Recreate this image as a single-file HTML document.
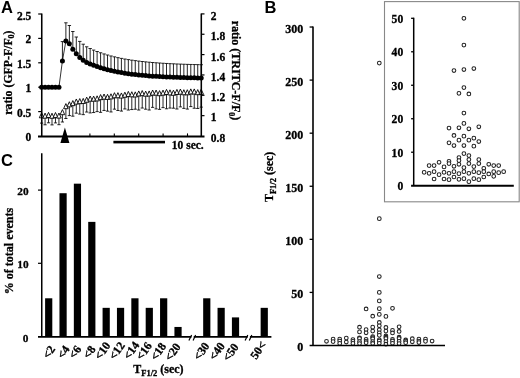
<!DOCTYPE html>
<html><head><meta charset="utf-8"><title>Figure</title>
<style>html,body{margin:0;padding:0;background:#fff}svg{display:block;will-change:transform;filter:grayscale(1)}</style></head>
<body><svg width="520" height="378" viewBox="0 0 520 378">
<rect width="520" height="378" fill="#fff"/>
<circle cx="379.30" cy="292.42" r="1.85" fill="#fff" stroke="#222" stroke-width="1.05"/>
<circle cx="379.30" cy="300.91" r="1.85" fill="#fff" stroke="#222" stroke-width="1.05"/>
<circle cx="366.10" cy="308.98" r="1.85" fill="#fff" stroke="#222" stroke-width="1.05"/>
<circle cx="379.30" cy="308.66" r="1.85" fill="#fff" stroke="#222" stroke-width="1.05"/>
<circle cx="392.50" cy="308.34" r="1.85" fill="#fff" stroke="#222" stroke-width="1.05"/>
<circle cx="379.30" cy="314.40" r="1.85" fill="#fff" stroke="#222" stroke-width="1.05"/>
<circle cx="372.70" cy="316.20" r="1.85" fill="#fff" stroke="#222" stroke-width="1.05"/>
<circle cx="385.90" cy="316.41" r="1.85" fill="#fff" stroke="#222" stroke-width="1.05"/>
<circle cx="379.30" cy="322.46" r="1.85" fill="#fff" stroke="#222" stroke-width="1.05"/>
<circle cx="379.30" cy="325.75" r="1.85" fill="#fff" stroke="#222" stroke-width="1.05"/>
<circle cx="359.50" cy="327.24" r="1.85" fill="#fff" stroke="#222" stroke-width="1.05"/>
<circle cx="372.70" cy="327.13" r="1.85" fill="#fff" stroke="#222" stroke-width="1.05"/>
<circle cx="385.90" cy="327.45" r="1.85" fill="#fff" stroke="#222" stroke-width="1.05"/>
<circle cx="399.10" cy="326.82" r="1.85" fill="#fff" stroke="#222" stroke-width="1.05"/>
<circle cx="366.10" cy="329.58" r="1.85" fill="#fff" stroke="#222" stroke-width="1.05"/>
<circle cx="379.30" cy="329.79" r="1.85" fill="#fff" stroke="#222" stroke-width="1.05"/>
<circle cx="372.70" cy="331.06" r="1.85" fill="#fff" stroke="#222" stroke-width="1.05"/>
<circle cx="385.90" cy="331.06" r="1.85" fill="#fff" stroke="#222" stroke-width="1.05"/>
<circle cx="392.50" cy="330.43" r="1.85" fill="#fff" stroke="#222" stroke-width="1.05"/>
<circle cx="359.50" cy="331.91" r="1.85" fill="#fff" stroke="#222" stroke-width="1.05"/>
<circle cx="399.10" cy="331.49" r="1.85" fill="#fff" stroke="#222" stroke-width="1.05"/>
<circle cx="366.10" cy="332.76" r="1.85" fill="#fff" stroke="#222" stroke-width="1.05"/>
<circle cx="379.30" cy="332.76" r="1.85" fill="#fff" stroke="#222" stroke-width="1.05"/>
<circle cx="392.50" cy="332.97" r="1.85" fill="#fff" stroke="#222" stroke-width="1.05"/>
<circle cx="379.30" cy="335.31" r="1.85" fill="#fff" stroke="#222" stroke-width="1.05"/>
<circle cx="385.90" cy="335.95" r="1.85" fill="#fff" stroke="#222" stroke-width="1.05"/>
<circle cx="372.70" cy="336.58" r="1.85" fill="#fff" stroke="#222" stroke-width="1.05"/>
<circle cx="372.70" cy="337.54" r="1.85" fill="#fff" stroke="#222" stroke-width="1.05"/>
<circle cx="385.90" cy="337.22" r="1.85" fill="#fff" stroke="#222" stroke-width="1.05"/>
<circle cx="399.10" cy="337.22" r="1.85" fill="#fff" stroke="#222" stroke-width="1.05"/>
<circle cx="359.50" cy="337.75" r="1.85" fill="#fff" stroke="#222" stroke-width="1.05"/>
<circle cx="346.30" cy="338.07" r="1.85" fill="#fff" stroke="#222" stroke-width="1.05"/>
<circle cx="333.10" cy="339.13" r="1.85" fill="#fff" stroke="#222" stroke-width="1.05"/>
<circle cx="339.70" cy="339.13" r="1.85" fill="#fff" stroke="#222" stroke-width="1.05"/>
<circle cx="352.90" cy="339.56" r="1.85" fill="#fff" stroke="#222" stroke-width="1.05"/>
<circle cx="359.50" cy="338.49" r="1.85" fill="#fff" stroke="#222" stroke-width="1.05"/>
<circle cx="366.10" cy="339.34" r="1.85" fill="#fff" stroke="#222" stroke-width="1.05"/>
<circle cx="372.70" cy="338.71" r="1.85" fill="#fff" stroke="#222" stroke-width="1.05"/>
<circle cx="379.30" cy="339.77" r="1.85" fill="#fff" stroke="#222" stroke-width="1.05"/>
<circle cx="385.90" cy="338.49" r="1.85" fill="#fff" stroke="#222" stroke-width="1.05"/>
<circle cx="392.50" cy="339.45" r="1.85" fill="#fff" stroke="#222" stroke-width="1.05"/>
<circle cx="399.10" cy="338.49" r="1.85" fill="#fff" stroke="#222" stroke-width="1.05"/>
<circle cx="405.70" cy="339.98" r="1.85" fill="#fff" stroke="#222" stroke-width="1.05"/>
<circle cx="412.30" cy="338.71" r="1.85" fill="#fff" stroke="#222" stroke-width="1.05"/>
<circle cx="418.90" cy="339.13" r="1.85" fill="#fff" stroke="#222" stroke-width="1.05"/>
<circle cx="425.50" cy="339.13" r="1.85" fill="#fff" stroke="#222" stroke-width="1.05"/>
<circle cx="326.50" cy="341.25" r="1.85" fill="#fff" stroke="#222" stroke-width="1.05"/>
<circle cx="333.10" cy="341.57" r="1.85" fill="#fff" stroke="#222" stroke-width="1.05"/>
<circle cx="339.70" cy="341.04" r="1.85" fill="#fff" stroke="#222" stroke-width="1.05"/>
<circle cx="346.30" cy="342.00" r="1.85" fill="#fff" stroke="#222" stroke-width="1.05"/>
<circle cx="352.90" cy="341.25" r="1.85" fill="#fff" stroke="#222" stroke-width="1.05"/>
<circle cx="359.50" cy="341.57" r="1.85" fill="#fff" stroke="#222" stroke-width="1.05"/>
<circle cx="366.10" cy="341.04" r="1.85" fill="#fff" stroke="#222" stroke-width="1.05"/>
<circle cx="372.70" cy="341.68" r="1.85" fill="#fff" stroke="#222" stroke-width="1.05"/>
<circle cx="379.30" cy="341.04" r="1.85" fill="#fff" stroke="#222" stroke-width="1.05"/>
<circle cx="385.90" cy="341.57" r="1.85" fill="#fff" stroke="#222" stroke-width="1.05"/>
<circle cx="392.50" cy="341.04" r="1.85" fill="#fff" stroke="#222" stroke-width="1.05"/>
<circle cx="399.10" cy="341.36" r="1.85" fill="#fff" stroke="#222" stroke-width="1.05"/>
<circle cx="405.70" cy="341.04" r="1.85" fill="#fff" stroke="#222" stroke-width="1.05"/>
<circle cx="412.30" cy="341.78" r="1.85" fill="#fff" stroke="#222" stroke-width="1.05"/>
<circle cx="418.90" cy="341.04" r="1.85" fill="#fff" stroke="#222" stroke-width="1.05"/>
<circle cx="425.50" cy="341.36" r="1.85" fill="#fff" stroke="#222" stroke-width="1.05"/>
<circle cx="432.10" cy="341.04" r="1.85" fill="#fff" stroke="#222" stroke-width="1.05"/>
<circle cx="339.70" cy="343.38" r="1.85" fill="#fff" stroke="#222" stroke-width="1.05"/>
<circle cx="352.90" cy="343.38" r="1.85" fill="#fff" stroke="#222" stroke-width="1.05"/>
<circle cx="359.50" cy="343.59" r="1.85" fill="#fff" stroke="#222" stroke-width="1.05"/>
<circle cx="366.10" cy="342.74" r="1.85" fill="#fff" stroke="#222" stroke-width="1.05"/>
<circle cx="372.70" cy="343.48" r="1.85" fill="#fff" stroke="#222" stroke-width="1.05"/>
<circle cx="379.30" cy="343.27" r="1.85" fill="#fff" stroke="#222" stroke-width="1.05"/>
<circle cx="385.90" cy="344.23" r="1.85" fill="#fff" stroke="#222" stroke-width="1.05"/>
<circle cx="392.50" cy="343.27" r="1.85" fill="#fff" stroke="#222" stroke-width="1.05"/>
<circle cx="399.10" cy="343.59" r="1.85" fill="#fff" stroke="#222" stroke-width="1.05"/>
<circle cx="405.70" cy="342.74" r="1.85" fill="#fff" stroke="#222" stroke-width="1.05"/>
<circle cx="418.90" cy="342.53" r="1.85" fill="#fff" stroke="#222" stroke-width="1.05"/>
<circle cx="379.30" cy="276.50" r="1.85" fill="#fff" stroke="#222" stroke-width="1.05"/>
<circle cx="379.30" cy="218.64" r="1.85" fill="#fff" stroke="#222" stroke-width="1.05"/>
<circle cx="379.30" cy="63.11" r="1.85" fill="#fff" stroke="#222" stroke-width="1.05"/>
<path d="M313.0 26.4V345.5" stroke="#000" stroke-width="1.6" fill="none"/>
<path d="M309.6 345.5H445" stroke="#000" stroke-width="1.7" fill="none"/>
<text x="303.2" y="351.10" text-anchor="end" font-size="12" font-family="Liberation Serif, serif" font-weight="bold" stroke="#000" stroke-width="0.3" fill="#000">0</text>
<path d="M309.6 292.42H313.0" stroke="#000" stroke-width="1.3"/>
<text x="303.2" y="298.02" text-anchor="end" font-size="12" font-family="Liberation Serif, serif" font-weight="bold" stroke="#000" stroke-width="0.3" fill="#000">50</text>
<path d="M309.6 239.34H313.0" stroke="#000" stroke-width="1.3"/>
<text x="303.2" y="244.94" text-anchor="end" font-size="12" font-family="Liberation Serif, serif" font-weight="bold" stroke="#000" stroke-width="0.3" fill="#000">100</text>
<path d="M309.6 186.26H313.0" stroke="#000" stroke-width="1.3"/>
<text x="303.2" y="191.86" text-anchor="end" font-size="12" font-family="Liberation Serif, serif" font-weight="bold" stroke="#000" stroke-width="0.3" fill="#000">150</text>
<path d="M309.6 133.18H313.0" stroke="#000" stroke-width="1.3"/>
<text x="303.2" y="138.78" text-anchor="end" font-size="12" font-family="Liberation Serif, serif" font-weight="bold" stroke="#000" stroke-width="0.3" fill="#000">200</text>
<path d="M309.6 80.10H313.0" stroke="#000" stroke-width="1.3"/>
<text x="303.2" y="85.70" text-anchor="end" font-size="12" font-family="Liberation Serif, serif" font-weight="bold" stroke="#000" stroke-width="0.3" fill="#000">250</text>
<path d="M309.6 27.02H313.0" stroke="#000" stroke-width="1.3"/>
<text x="303.2" y="32.62" text-anchor="end" font-size="12" font-family="Liberation Serif, serif" font-weight="bold" stroke="#000" stroke-width="0.3" fill="#000">300</text>
<text transform="translate(273.2,176.9) rotate(-90)" text-anchor="middle" font-size="12" font-family="Liberation Serif, serif" font-weight="bold" stroke="#000" stroke-width="0.3" fill="#000">T<tspan font-size="8.5" dy="2.6">F1/2</tspan><tspan dy="-2.6"> (sec)</tspan></text>
<text x="264.5" y="12.9" font-size="16.5" font-family="Liberation Sans, sans-serif" font-weight="bold" fill="#000">B</text>
<rect x="384.5" y="1.6" width="134.7" height="200.2" fill="#fff" stroke="#888" stroke-width="1.1"/>
<circle cx="463.90" cy="18.30" r="1.85" fill="#fff" stroke="#222" stroke-width="1.05"/>
<circle cx="463.90" cy="45.08" r="1.85" fill="#fff" stroke="#222" stroke-width="1.05"/>
<circle cx="453.96" cy="70.53" r="1.85" fill="#fff" stroke="#222" stroke-width="1.05"/>
<circle cx="463.90" cy="69.52" r="1.85" fill="#fff" stroke="#222" stroke-width="1.05"/>
<circle cx="473.84" cy="68.52" r="1.85" fill="#fff" stroke="#222" stroke-width="1.05"/>
<circle cx="463.90" cy="87.60" r="1.85" fill="#fff" stroke="#222" stroke-width="1.05"/>
<circle cx="458.93" cy="93.30" r="1.85" fill="#fff" stroke="#222" stroke-width="1.05"/>
<circle cx="468.87" cy="93.96" r="1.85" fill="#fff" stroke="#222" stroke-width="1.05"/>
<circle cx="463.90" cy="113.05" r="1.85" fill="#fff" stroke="#222" stroke-width="1.05"/>
<circle cx="463.90" cy="123.43" r="1.85" fill="#fff" stroke="#222" stroke-width="1.05"/>
<circle cx="448.99" cy="128.11" r="1.85" fill="#fff" stroke="#222" stroke-width="1.05"/>
<circle cx="458.93" cy="127.78" r="1.85" fill="#fff" stroke="#222" stroke-width="1.05"/>
<circle cx="468.87" cy="128.78" r="1.85" fill="#fff" stroke="#222" stroke-width="1.05"/>
<circle cx="478.81" cy="126.78" r="1.85" fill="#fff" stroke="#222" stroke-width="1.05"/>
<circle cx="453.96" cy="135.48" r="1.85" fill="#fff" stroke="#222" stroke-width="1.05"/>
<circle cx="463.90" cy="136.15" r="1.85" fill="#fff" stroke="#222" stroke-width="1.05"/>
<circle cx="458.93" cy="140.17" r="1.85" fill="#fff" stroke="#222" stroke-width="1.05"/>
<circle cx="468.87" cy="140.17" r="1.85" fill="#fff" stroke="#222" stroke-width="1.05"/>
<circle cx="473.84" cy="138.16" r="1.85" fill="#fff" stroke="#222" stroke-width="1.05"/>
<circle cx="448.99" cy="142.85" r="1.85" fill="#fff" stroke="#222" stroke-width="1.05"/>
<circle cx="478.81" cy="141.51" r="1.85" fill="#fff" stroke="#222" stroke-width="1.05"/>
<circle cx="453.96" cy="145.52" r="1.85" fill="#fff" stroke="#222" stroke-width="1.05"/>
<circle cx="463.90" cy="145.52" r="1.85" fill="#fff" stroke="#222" stroke-width="1.05"/>
<circle cx="473.84" cy="146.19" r="1.85" fill="#fff" stroke="#222" stroke-width="1.05"/>
<circle cx="463.90" cy="153.56" r="1.85" fill="#fff" stroke="#222" stroke-width="1.05"/>
<circle cx="468.87" cy="155.57" r="1.85" fill="#fff" stroke="#222" stroke-width="1.05"/>
<circle cx="458.93" cy="157.58" r="1.85" fill="#fff" stroke="#222" stroke-width="1.05"/>
<circle cx="458.93" cy="160.59" r="1.85" fill="#fff" stroke="#222" stroke-width="1.05"/>
<circle cx="468.87" cy="159.59" r="1.85" fill="#fff" stroke="#222" stroke-width="1.05"/>
<circle cx="478.81" cy="159.59" r="1.85" fill="#fff" stroke="#222" stroke-width="1.05"/>
<circle cx="448.99" cy="161.26" r="1.85" fill="#fff" stroke="#222" stroke-width="1.05"/>
<circle cx="439.05" cy="162.26" r="1.85" fill="#fff" stroke="#222" stroke-width="1.05"/>
<circle cx="429.11" cy="165.61" r="1.85" fill="#fff" stroke="#222" stroke-width="1.05"/>
<circle cx="434.08" cy="165.61" r="1.85" fill="#fff" stroke="#222" stroke-width="1.05"/>
<circle cx="444.02" cy="166.95" r="1.85" fill="#fff" stroke="#222" stroke-width="1.05"/>
<circle cx="448.99" cy="163.60" r="1.85" fill="#fff" stroke="#222" stroke-width="1.05"/>
<circle cx="453.96" cy="166.28" r="1.85" fill="#fff" stroke="#222" stroke-width="1.05"/>
<circle cx="458.93" cy="164.27" r="1.85" fill="#fff" stroke="#222" stroke-width="1.05"/>
<circle cx="463.90" cy="167.62" r="1.85" fill="#fff" stroke="#222" stroke-width="1.05"/>
<circle cx="468.87" cy="163.60" r="1.85" fill="#fff" stroke="#222" stroke-width="1.05"/>
<circle cx="473.84" cy="166.62" r="1.85" fill="#fff" stroke="#222" stroke-width="1.05"/>
<circle cx="478.81" cy="163.60" r="1.85" fill="#fff" stroke="#222" stroke-width="1.05"/>
<circle cx="483.78" cy="168.29" r="1.85" fill="#fff" stroke="#222" stroke-width="1.05"/>
<circle cx="488.75" cy="164.27" r="1.85" fill="#fff" stroke="#222" stroke-width="1.05"/>
<circle cx="493.72" cy="165.61" r="1.85" fill="#fff" stroke="#222" stroke-width="1.05"/>
<circle cx="498.69" cy="165.61" r="1.85" fill="#fff" stroke="#222" stroke-width="1.05"/>
<circle cx="424.14" cy="172.31" r="1.85" fill="#fff" stroke="#222" stroke-width="1.05"/>
<circle cx="429.11" cy="173.31" r="1.85" fill="#fff" stroke="#222" stroke-width="1.05"/>
<circle cx="434.08" cy="171.64" r="1.85" fill="#fff" stroke="#222" stroke-width="1.05"/>
<circle cx="439.05" cy="174.65" r="1.85" fill="#fff" stroke="#222" stroke-width="1.05"/>
<circle cx="444.02" cy="172.31" r="1.85" fill="#fff" stroke="#222" stroke-width="1.05"/>
<circle cx="448.99" cy="173.31" r="1.85" fill="#fff" stroke="#222" stroke-width="1.05"/>
<circle cx="453.96" cy="171.64" r="1.85" fill="#fff" stroke="#222" stroke-width="1.05"/>
<circle cx="458.93" cy="173.65" r="1.85" fill="#fff" stroke="#222" stroke-width="1.05"/>
<circle cx="463.90" cy="171.64" r="1.85" fill="#fff" stroke="#222" stroke-width="1.05"/>
<circle cx="468.87" cy="173.31" r="1.85" fill="#fff" stroke="#222" stroke-width="1.05"/>
<circle cx="473.84" cy="171.64" r="1.85" fill="#fff" stroke="#222" stroke-width="1.05"/>
<circle cx="478.81" cy="172.64" r="1.85" fill="#fff" stroke="#222" stroke-width="1.05"/>
<circle cx="483.78" cy="171.64" r="1.85" fill="#fff" stroke="#222" stroke-width="1.05"/>
<circle cx="488.75" cy="173.98" r="1.85" fill="#fff" stroke="#222" stroke-width="1.05"/>
<circle cx="493.72" cy="171.64" r="1.85" fill="#fff" stroke="#222" stroke-width="1.05"/>
<circle cx="498.69" cy="172.64" r="1.85" fill="#fff" stroke="#222" stroke-width="1.05"/>
<circle cx="503.66" cy="171.64" r="1.85" fill="#fff" stroke="#222" stroke-width="1.05"/>
<circle cx="434.08" cy="179.00" r="1.85" fill="#fff" stroke="#222" stroke-width="1.05"/>
<circle cx="444.02" cy="179.00" r="1.85" fill="#fff" stroke="#222" stroke-width="1.05"/>
<circle cx="448.99" cy="179.67" r="1.85" fill="#fff" stroke="#222" stroke-width="1.05"/>
<circle cx="453.96" cy="177.00" r="1.85" fill="#fff" stroke="#222" stroke-width="1.05"/>
<circle cx="458.93" cy="179.34" r="1.85" fill="#fff" stroke="#222" stroke-width="1.05"/>
<circle cx="463.90" cy="178.67" r="1.85" fill="#fff" stroke="#222" stroke-width="1.05"/>
<circle cx="468.87" cy="181.68" r="1.85" fill="#fff" stroke="#222" stroke-width="1.05"/>
<circle cx="473.84" cy="178.67" r="1.85" fill="#fff" stroke="#222" stroke-width="1.05"/>
<circle cx="478.81" cy="179.67" r="1.85" fill="#fff" stroke="#222" stroke-width="1.05"/>
<circle cx="483.78" cy="177.00" r="1.85" fill="#fff" stroke="#222" stroke-width="1.05"/>
<circle cx="493.72" cy="176.33" r="1.85" fill="#fff" stroke="#222" stroke-width="1.05"/>
<path d="M413.7 17.7V185.7" stroke="#000" stroke-width="1.5" fill="none"/>
<path d="M411.09999999999997 185.79999999999998H513.8" stroke="#000" stroke-width="2.0" fill="none"/>
<text x="403.2" y="190.10" text-anchor="end" font-size="11.6" font-family="Liberation Serif, serif" font-weight="bold" stroke="#000" stroke-width="0.3" fill="#000">0</text>
<path d="M411.09999999999997 152.22H413.7" stroke="#000" stroke-width="1.3"/>
<text x="403.2" y="156.62" text-anchor="end" font-size="11.6" font-family="Liberation Serif, serif" font-weight="bold" stroke="#000" stroke-width="0.3" fill="#000">10</text>
<path d="M411.09999999999997 118.74H413.7" stroke="#000" stroke-width="1.3"/>
<text x="403.2" y="123.14" text-anchor="end" font-size="11.6" font-family="Liberation Serif, serif" font-weight="bold" stroke="#000" stroke-width="0.3" fill="#000">20</text>
<path d="M411.09999999999997 85.26H413.7" stroke="#000" stroke-width="1.3"/>
<text x="403.2" y="89.66" text-anchor="end" font-size="11.6" font-family="Liberation Serif, serif" font-weight="bold" stroke="#000" stroke-width="0.3" fill="#000">30</text>
<path d="M411.09999999999997 51.78H413.7" stroke="#000" stroke-width="1.3"/>
<text x="403.2" y="56.18" text-anchor="end" font-size="11.6" font-family="Liberation Serif, serif" font-weight="bold" stroke="#000" stroke-width="0.3" fill="#000">40</text>
<path d="M411.09999999999997 18.30H413.7" stroke="#000" stroke-width="1.3"/>
<text x="403.2" y="22.70" text-anchor="end" font-size="11.6" font-family="Liberation Serif, serif" font-weight="bold" stroke="#000" stroke-width="0.3" fill="#000">50</text>
<path d="M41.60 115.60V123.10M40.00 123.10H43.20" stroke="#000" stroke-width="0.85" fill="none"/>
<path d="M45.07 116.00V124.80M43.47 124.80H46.67" stroke="#000" stroke-width="0.85" fill="none"/>
<path d="M48.54 115.30V122.80M46.94 122.80H50.14" stroke="#000" stroke-width="0.85" fill="none"/>
<path d="M52.01 116.10V124.90M50.41 124.90H53.61" stroke="#000" stroke-width="0.85" fill="none"/>
<path d="M55.48 115.40V122.90M53.88 122.90H57.08" stroke="#000" stroke-width="0.85" fill="none"/>
<path d="M58.95 115.90V124.70M57.35 124.70H60.55" stroke="#000" stroke-width="0.85" fill="none"/>
<path d="M62.42 112.50V122.00M60.82 122.00H64.02" stroke="#000" stroke-width="0.85" fill="none"/>
<path d="M65.89 106.50V118.50M64.29 118.50H67.49" stroke="#000" stroke-width="0.85" fill="none"/>
<path d="M69.36 104.63V115.60M67.76 115.60H70.96" stroke="#000" stroke-width="0.85" fill="none"/>
<path d="M72.83 103.44V116.18M71.23 116.18H74.43" stroke="#000" stroke-width="0.85" fill="none"/>
<path d="M76.30 101.88V113.16M74.70 113.16H77.90" stroke="#000" stroke-width="0.85" fill="none"/>
<path d="M79.77 101.46V114.08M78.17 114.08H81.37" stroke="#000" stroke-width="0.85" fill="none"/>
<path d="M83.23 101.28V114.65M81.63 114.65H84.83" stroke="#000" stroke-width="0.85" fill="none"/>
<path d="M86.70 100.02V112.04M85.10 112.04H88.30" stroke="#000" stroke-width="0.85" fill="none"/>
<path d="M90.17 98.94V112.91M88.57 112.91H91.77" stroke="#000" stroke-width="0.85" fill="none"/>
<path d="M93.64 99.00V112.55M92.04 112.55H95.24" stroke="#000" stroke-width="0.85" fill="none"/>
<path d="M97.11 98.70V111.62M95.51 111.62H98.71" stroke="#000" stroke-width="0.85" fill="none"/>
<path d="M100.58 97.45V112.33M98.98 112.33H102.18" stroke="#000" stroke-width="0.85" fill="none"/>
<path d="M104.05 96.90V110.44M102.45 110.44H105.65" stroke="#000" stroke-width="0.85" fill="none"/>
<path d="M107.52 97.21V111.16M105.92 111.16H109.12" stroke="#000" stroke-width="0.85" fill="none"/>
<path d="M110.99 96.68V111.96M109.39 111.96H112.59" stroke="#000" stroke-width="0.85" fill="none"/>
<path d="M114.46 95.58V109.17M112.86 109.17H116.06" stroke="#000" stroke-width="0.85" fill="none"/>
<path d="M117.93 95.54V110.50M116.33 110.50H119.53" stroke="#000" stroke-width="0.85" fill="none"/>
<path d="M121.40 95.85V111.08M119.80 111.08H123.00" stroke="#000" stroke-width="0.85" fill="none"/>
<path d="M124.87 95.08V108.95M123.27 108.95H126.47" stroke="#000" stroke-width="0.85" fill="none"/>
<path d="M128.34 94.28V110.04M126.74 110.04H129.94" stroke="#000" stroke-width="0.85" fill="none"/>
<path d="M131.81 94.63V109.55M130.21 109.55H133.41" stroke="#000" stroke-width="0.85" fill="none"/>
<path d="M135.28 94.75V109.20M133.68 109.20H136.88" stroke="#000" stroke-width="0.85" fill="none"/>
<path d="M138.75 93.83V110.02M137.15 110.02H140.35" stroke="#000" stroke-width="0.85" fill="none"/>
<path d="M142.22 93.44V108.04M140.62 108.04H143.82" stroke="#000" stroke-width="0.85" fill="none"/>
<path d="M145.69 94.00V109.20M144.09 109.20H147.29" stroke="#000" stroke-width="0.85" fill="none"/>
<path d="M149.16 93.81V110.01M147.56 110.01H150.76" stroke="#000" stroke-width="0.85" fill="none"/>
<path d="M152.63 92.91V107.36M151.03 107.36H154.23" stroke="#000" stroke-width="0.85" fill="none"/>
<path d="M156.10 92.96V108.92M154.50 108.92H157.70" stroke="#000" stroke-width="0.85" fill="none"/>
<path d="M159.57 93.51V109.36M157.97 109.36H161.17" stroke="#000" stroke-width="0.85" fill="none"/>
<path d="M163.03 93.00V107.64M161.43 107.64H164.63" stroke="#000" stroke-width="0.85" fill="none"/>
<path d="M166.50 92.29V108.78M164.90 108.78H168.10" stroke="#000" stroke-width="0.85" fill="none"/>
<path d="M169.97 92.71V108.07M168.37 108.07H171.57" stroke="#000" stroke-width="0.85" fill="none"/>
<path d="M173.44 93.07V108.19M171.84 108.19H175.04" stroke="#000" stroke-width="0.85" fill="none"/>
<path d="M176.91 92.32V109.00M175.31 109.00H178.51" stroke="#000" stroke-width="0.85" fill="none"/>
<path d="M180.38 91.95V106.88M178.78 106.88H181.98" stroke="#000" stroke-width="0.85" fill="none"/>
<path d="M183.85 92.59V108.38M182.25 108.38H185.45" stroke="#000" stroke-width="0.85" fill="none"/>
<path d="M187.32 92.62V109.08M185.72 109.08H188.92" stroke="#000" stroke-width="0.85" fill="none"/>
<path d="M190.79 91.79V106.58M189.19 106.58H192.39" stroke="#000" stroke-width="0.85" fill="none"/>
<path d="M194.26 91.82V108.24M192.66 108.24H195.86" stroke="#000" stroke-width="0.85" fill="none"/>
<path d="M197.73 92.49V108.48M196.13 108.48H199.33" stroke="#000" stroke-width="0.85" fill="none"/>
<path d="M201.20 92.16V107.14M199.60 107.14H202.80" stroke="#000" stroke-width="0.85" fill="none"/>
<path d="M62.42 61.00V41.60M60.72 41.60H64.12" stroke="#000" stroke-width="0.85" fill="none"/>
<path d="M65.89 41.00V22.80M64.19 22.80H67.59" stroke="#000" stroke-width="0.85" fill="none"/>
<path d="M69.36 43.80V25.50M67.66 25.50H71.06" stroke="#000" stroke-width="0.85" fill="none"/>
<path d="M72.83 49.20V31.50M71.13 31.50H74.53" stroke="#000" stroke-width="0.85" fill="none"/>
<path d="M76.30 53.80V37.00M74.60 37.00H78.00" stroke="#000" stroke-width="0.85" fill="none"/>
<path d="M79.77 57.50V41.40M78.07 41.40H81.47" stroke="#000" stroke-width="0.85" fill="none"/>
<path d="M83.23 60.30V44.20M81.53 44.20H84.93" stroke="#000" stroke-width="0.85" fill="none"/>
<path d="M86.70 62.40V46.80M85.00 46.80H88.40" stroke="#000" stroke-width="0.85" fill="none"/>
<path d="M90.17 63.93V48.52M88.47 48.52H91.87" stroke="#000" stroke-width="0.85" fill="none"/>
<path d="M93.64 65.31V50.08M91.94 50.08H95.34" stroke="#000" stroke-width="0.85" fill="none"/>
<path d="M97.11 66.57V51.50M95.41 51.50H98.81" stroke="#000" stroke-width="0.85" fill="none"/>
<path d="M100.58 67.70V52.78M98.88 52.78H102.28" stroke="#000" stroke-width="0.85" fill="none"/>
<path d="M104.05 68.73V53.95M102.35 53.95H105.75" stroke="#000" stroke-width="0.85" fill="none"/>
<path d="M107.52 69.66V55.01M105.82 55.01H109.22" stroke="#000" stroke-width="0.85" fill="none"/>
<path d="M110.99 70.51V55.98M109.29 55.98H112.69" stroke="#000" stroke-width="0.85" fill="none"/>
<path d="M114.46 71.27V56.85M112.76 56.85H116.16" stroke="#000" stroke-width="0.85" fill="none"/>
<path d="M117.93 71.96V57.65M116.23 57.65H119.63" stroke="#000" stroke-width="0.85" fill="none"/>
<path d="M121.40 72.59V58.37M119.70 58.37H123.10" stroke="#000" stroke-width="0.85" fill="none"/>
<path d="M124.87 73.16V59.02M123.17 59.02H126.57" stroke="#000" stroke-width="0.85" fill="none"/>
<path d="M128.34 73.67V59.62M126.64 59.62H130.04" stroke="#000" stroke-width="0.85" fill="none"/>
<path d="M131.81 74.13V60.16M130.11 60.16H133.51" stroke="#000" stroke-width="0.85" fill="none"/>
<path d="M135.28 74.56V60.65M133.58 60.65H136.98" stroke="#000" stroke-width="0.85" fill="none"/>
<path d="M138.75 74.94V61.09M137.05 61.09H140.45" stroke="#000" stroke-width="0.85" fill="none"/>
<path d="M142.22 75.28V61.50M140.52 61.50H143.92" stroke="#000" stroke-width="0.85" fill="none"/>
<path d="M145.69 75.60V61.87M143.99 61.87H147.39" stroke="#000" stroke-width="0.85" fill="none"/>
<path d="M149.16 75.88V62.20M147.46 62.20H150.86" stroke="#000" stroke-width="0.85" fill="none"/>
<path d="M152.63 76.14V62.50M150.93 62.50H154.33" stroke="#000" stroke-width="0.85" fill="none"/>
<path d="M156.10 76.37V62.78M154.40 62.78H157.80" stroke="#000" stroke-width="0.85" fill="none"/>
<path d="M159.57 76.58V63.03M157.87 63.03H161.27" stroke="#000" stroke-width="0.85" fill="none"/>
<path d="M163.03 76.77V63.26M161.33 63.26H164.73" stroke="#000" stroke-width="0.85" fill="none"/>
<path d="M166.50 76.94V63.46M164.80 63.46H168.20" stroke="#000" stroke-width="0.85" fill="none"/>
<path d="M169.97 77.10V63.65M168.27 63.65H171.67" stroke="#000" stroke-width="0.85" fill="none"/>
<path d="M173.44 77.24V63.82M171.74 63.82H175.14" stroke="#000" stroke-width="0.85" fill="none"/>
<path d="M176.91 77.37V63.97M175.21 63.97H178.61" stroke="#000" stroke-width="0.85" fill="none"/>
<path d="M180.38 77.49V64.11M178.68 64.11H182.08" stroke="#000" stroke-width="0.85" fill="none"/>
<path d="M183.85 77.59V64.24M182.15 64.24H185.55" stroke="#000" stroke-width="0.85" fill="none"/>
<path d="M187.32 77.69V64.36M185.62 64.36H189.02" stroke="#000" stroke-width="0.85" fill="none"/>
<path d="M190.79 77.77V64.46M189.09 64.46H192.49" stroke="#000" stroke-width="0.85" fill="none"/>
<path d="M194.26 77.85V64.56M192.56 64.56H195.96" stroke="#000" stroke-width="0.85" fill="none"/>
<path d="M197.73 77.92V64.64M196.03 64.64H199.43" stroke="#000" stroke-width="0.85" fill="none"/>
<path d="M201.20 77.99V64.72M199.50 64.72H202.90" stroke="#000" stroke-width="0.85" fill="none"/>
<polyline fill="none" stroke="#000" stroke-width="0.8" points="41.60,87.20 45.07,87.20 48.54,87.20 52.01,87.20 55.48,87.20 58.95,87.20 62.42,61.00 65.89,41.00 69.36,43.80 72.83,49.20 76.30,53.80 79.77,57.50 83.23,60.30 86.70,62.40 90.17,63.93 93.64,65.31 97.11,66.57 100.58,67.70 104.05,68.73 107.52,69.66 110.99,70.51 114.46,71.27 117.93,71.96 121.40,72.59 124.87,73.16 128.34,73.67 131.81,74.13 135.28,74.56 138.75,74.94 142.22,75.28 145.69,75.60 149.16,75.88 152.63,76.14 156.10,76.37 159.57,76.58 163.03,76.77 166.50,76.94 169.97,77.10 173.44,77.24 176.91,77.37 180.38,77.49 183.85,77.59 187.32,77.69 190.79,77.77 194.26,77.85 197.73,77.92 201.20,77.99"/>
<path d="M41.60 112.70L43.90 117.80H39.30Z" fill="#fff" stroke="#000" stroke-width="0.9"/>
<path d="M45.07 113.10L47.37 118.20H42.77Z" fill="#fff" stroke="#000" stroke-width="0.9"/>
<path d="M48.54 112.40L50.84 117.50H46.24Z" fill="#fff" stroke="#000" stroke-width="0.9"/>
<path d="M52.01 113.20L54.31 118.30H49.71Z" fill="#fff" stroke="#000" stroke-width="0.9"/>
<path d="M55.48 112.50L57.78 117.60H53.18Z" fill="#fff" stroke="#000" stroke-width="0.9"/>
<path d="M58.95 113.00L61.25 118.10H56.65Z" fill="#fff" stroke="#000" stroke-width="0.9"/>
<path d="M62.42 109.60L64.72 114.70H60.12Z" fill="#fff" stroke="#000" stroke-width="0.9"/>
<path d="M65.89 103.60L68.19 108.70H63.59Z" fill="#fff" stroke="#000" stroke-width="0.9"/>
<path d="M69.36 101.73L71.66 106.83H67.06Z" fill="#fff" stroke="#000" stroke-width="0.9"/>
<path d="M72.83 100.54L75.13 105.64H70.53Z" fill="#fff" stroke="#000" stroke-width="0.9"/>
<path d="M76.30 98.98L78.60 104.08H74.00Z" fill="#fff" stroke="#000" stroke-width="0.9"/>
<path d="M79.77 98.56L82.07 103.66H77.47Z" fill="#fff" stroke="#000" stroke-width="0.9"/>
<path d="M83.23 98.38L85.53 103.48H80.93Z" fill="#fff" stroke="#000" stroke-width="0.9"/>
<path d="M86.70 97.12L89.00 102.22H84.40Z" fill="#fff" stroke="#000" stroke-width="0.9"/>
<path d="M90.17 96.04L92.47 101.14H87.87Z" fill="#fff" stroke="#000" stroke-width="0.9"/>
<path d="M93.64 96.10L95.94 101.20H91.34Z" fill="#fff" stroke="#000" stroke-width="0.9"/>
<path d="M97.11 95.80L99.41 100.90H94.81Z" fill="#fff" stroke="#000" stroke-width="0.9"/>
<path d="M100.58 94.55L102.88 99.65H98.28Z" fill="#fff" stroke="#000" stroke-width="0.9"/>
<path d="M104.05 94.00L106.35 99.10H101.75Z" fill="#fff" stroke="#000" stroke-width="0.9"/>
<path d="M107.52 94.31L109.82 99.41H105.22Z" fill="#fff" stroke="#000" stroke-width="0.9"/>
<path d="M110.99 93.78L113.29 98.88H108.69Z" fill="#fff" stroke="#000" stroke-width="0.9"/>
<path d="M114.46 92.68L116.76 97.78H112.16Z" fill="#fff" stroke="#000" stroke-width="0.9"/>
<path d="M117.93 92.64L120.23 97.74H115.63Z" fill="#fff" stroke="#000" stroke-width="0.9"/>
<path d="M121.40 92.95L123.70 98.05H119.10Z" fill="#fff" stroke="#000" stroke-width="0.9"/>
<path d="M124.87 92.18L127.17 97.28H122.57Z" fill="#fff" stroke="#000" stroke-width="0.9"/>
<path d="M128.34 91.38L130.64 96.48H126.04Z" fill="#fff" stroke="#000" stroke-width="0.9"/>
<path d="M131.81 91.73L134.11 96.83H129.51Z" fill="#fff" stroke="#000" stroke-width="0.9"/>
<path d="M135.28 91.85L137.58 96.95H132.98Z" fill="#fff" stroke="#000" stroke-width="0.9"/>
<path d="M138.75 90.93L141.05 96.03H136.45Z" fill="#fff" stroke="#000" stroke-width="0.9"/>
<path d="M142.22 90.54L144.52 95.64H139.92Z" fill="#fff" stroke="#000" stroke-width="0.9"/>
<path d="M145.69 91.10L147.99 96.20H143.39Z" fill="#fff" stroke="#000" stroke-width="0.9"/>
<path d="M149.16 90.91L151.46 96.01H146.86Z" fill="#fff" stroke="#000" stroke-width="0.9"/>
<path d="M152.63 90.01L154.93 95.11H150.33Z" fill="#fff" stroke="#000" stroke-width="0.9"/>
<path d="M156.10 90.06L158.40 95.16H153.80Z" fill="#fff" stroke="#000" stroke-width="0.9"/>
<path d="M159.57 90.61L161.87 95.71H157.27Z" fill="#fff" stroke="#000" stroke-width="0.9"/>
<path d="M163.03 90.10L165.33 95.20H160.73Z" fill="#fff" stroke="#000" stroke-width="0.9"/>
<path d="M166.50 89.39L168.80 94.49H164.20Z" fill="#fff" stroke="#000" stroke-width="0.9"/>
<path d="M169.97 89.81L172.27 94.91H167.67Z" fill="#fff" stroke="#000" stroke-width="0.9"/>
<path d="M173.44 90.17L175.74 95.27H171.14Z" fill="#fff" stroke="#000" stroke-width="0.9"/>
<path d="M176.91 89.42L179.21 94.52H174.61Z" fill="#fff" stroke="#000" stroke-width="0.9"/>
<path d="M180.38 89.05L182.68 94.15H178.08Z" fill="#fff" stroke="#000" stroke-width="0.9"/>
<path d="M183.85 89.69L186.15 94.79H181.55Z" fill="#fff" stroke="#000" stroke-width="0.9"/>
<path d="M187.32 89.72L189.62 94.82H185.02Z" fill="#fff" stroke="#000" stroke-width="0.9"/>
<path d="M190.79 88.89L193.09 93.99H188.49Z" fill="#fff" stroke="#000" stroke-width="0.9"/>
<path d="M194.26 88.92L196.56 94.02H191.96Z" fill="#fff" stroke="#000" stroke-width="0.9"/>
<path d="M197.73 89.59L200.03 94.69H195.43Z" fill="#fff" stroke="#000" stroke-width="0.9"/>
<path d="M201.20 89.26L203.50 94.36H198.90Z" fill="#fff" stroke="#000" stroke-width="0.9"/>
<circle cx="41.60" cy="87.20" r="2.5" fill="#000"/>
<circle cx="45.07" cy="87.20" r="2.5" fill="#000"/>
<circle cx="48.54" cy="87.20" r="2.5" fill="#000"/>
<circle cx="52.01" cy="87.20" r="2.5" fill="#000"/>
<circle cx="55.48" cy="87.20" r="2.5" fill="#000"/>
<circle cx="58.95" cy="87.20" r="2.5" fill="#000"/>
<circle cx="62.42" cy="61.00" r="2.5" fill="#000"/>
<circle cx="65.89" cy="41.00" r="2.5" fill="#000"/>
<circle cx="69.36" cy="43.80" r="2.5" fill="#000"/>
<circle cx="72.83" cy="49.20" r="2.5" fill="#000"/>
<circle cx="76.30" cy="53.80" r="2.5" fill="#000"/>
<circle cx="79.77" cy="57.50" r="2.5" fill="#000"/>
<circle cx="83.23" cy="60.30" r="2.5" fill="#000"/>
<circle cx="86.70" cy="62.40" r="2.5" fill="#000"/>
<circle cx="90.17" cy="63.93" r="2.5" fill="#000"/>
<circle cx="93.64" cy="65.31" r="2.5" fill="#000"/>
<circle cx="97.11" cy="66.57" r="2.5" fill="#000"/>
<circle cx="100.58" cy="67.70" r="2.5" fill="#000"/>
<circle cx="104.05" cy="68.73" r="2.5" fill="#000"/>
<circle cx="107.52" cy="69.66" r="2.5" fill="#000"/>
<circle cx="110.99" cy="70.51" r="2.5" fill="#000"/>
<circle cx="114.46" cy="71.27" r="2.5" fill="#000"/>
<circle cx="117.93" cy="71.96" r="2.5" fill="#000"/>
<circle cx="121.40" cy="72.59" r="2.5" fill="#000"/>
<circle cx="124.87" cy="73.16" r="2.5" fill="#000"/>
<circle cx="128.34" cy="73.67" r="2.5" fill="#000"/>
<circle cx="131.81" cy="74.13" r="2.5" fill="#000"/>
<circle cx="135.28" cy="74.56" r="2.5" fill="#000"/>
<circle cx="138.75" cy="74.94" r="2.5" fill="#000"/>
<circle cx="142.22" cy="75.28" r="2.5" fill="#000"/>
<circle cx="145.69" cy="75.60" r="2.5" fill="#000"/>
<circle cx="149.16" cy="75.88" r="2.5" fill="#000"/>
<circle cx="152.63" cy="76.14" r="2.5" fill="#000"/>
<circle cx="156.10" cy="76.37" r="2.5" fill="#000"/>
<circle cx="159.57" cy="76.58" r="2.5" fill="#000"/>
<circle cx="163.03" cy="76.77" r="2.5" fill="#000"/>
<circle cx="166.50" cy="76.94" r="2.5" fill="#000"/>
<circle cx="169.97" cy="77.10" r="2.5" fill="#000"/>
<circle cx="173.44" cy="77.24" r="2.5" fill="#000"/>
<circle cx="176.91" cy="77.37" r="2.5" fill="#000"/>
<circle cx="180.38" cy="77.49" r="2.5" fill="#000"/>
<circle cx="183.85" cy="77.59" r="2.5" fill="#000"/>
<circle cx="187.32" cy="77.69" r="2.5" fill="#000"/>
<circle cx="190.79" cy="77.77" r="2.5" fill="#000"/>
<circle cx="194.26" cy="77.85" r="2.5" fill="#000"/>
<circle cx="197.73" cy="77.92" r="2.5" fill="#000"/>
<circle cx="201.20" cy="77.99" r="2.5" fill="#000"/>
<path d="M41.75 13.4V136.0M201.3 13.4V136.0" stroke="#000" stroke-width="1.55" fill="none"/>
<path d="M38.0 136.5H204.5" stroke="#000" stroke-width="1.9" fill="none"/>
<path d="M38.2 111.60H41.6" stroke="#000" stroke-width="1.2"/>
<path d="M38.2 87.20H41.6" stroke="#000" stroke-width="1.2"/>
<path d="M38.2 62.80H41.6" stroke="#000" stroke-width="1.2"/>
<path d="M38.2 38.40H41.6" stroke="#000" stroke-width="1.2"/>
<path d="M38.2 14.00H41.6" stroke="#000" stroke-width="1.2"/>
<path d="M201.3 115.65H204.5" stroke="#000" stroke-width="1.2"/>
<path d="M201.3 95.30H204.5" stroke="#000" stroke-width="1.2"/>
<path d="M201.3 74.95H204.5" stroke="#000" stroke-width="1.2"/>
<path d="M201.3 54.60H204.5" stroke="#000" stroke-width="1.2"/>
<path d="M201.3 34.25H204.5" stroke="#000" stroke-width="1.2"/>
<path d="M201.3 13.90H204.5" stroke="#000" stroke-width="1.2"/>
<path d="M65.50 136.0V133.4" stroke="#000" stroke-width="1.1"/>
<path d="M89.90 136.0V133.4" stroke="#000" stroke-width="1.1"/>
<path d="M114.30 136.0V133.4" stroke="#000" stroke-width="1.1"/>
<path d="M138.70 136.0V133.4" stroke="#000" stroke-width="1.1"/>
<path d="M163.10 136.0V133.4" stroke="#000" stroke-width="1.1"/>
<path d="M187.50 136.0V133.4" stroke="#000" stroke-width="1.1"/>
<text x="31.3" y="140.90" text-anchor="end" font-size="11.5" font-family="Liberation Serif, serif" font-weight="bold" stroke="#000" stroke-width="0.3" fill="#000">0</text>
<text x="31.3" y="116.50" text-anchor="end" font-size="11.5" font-family="Liberation Serif, serif" font-weight="bold" stroke="#000" stroke-width="0.3" fill="#000">0.5</text>
<text x="31.3" y="92.10" text-anchor="end" font-size="11.5" font-family="Liberation Serif, serif" font-weight="bold" stroke="#000" stroke-width="0.3" fill="#000">1</text>
<text x="31.3" y="67.70" text-anchor="end" font-size="11.5" font-family="Liberation Serif, serif" font-weight="bold" stroke="#000" stroke-width="0.3" fill="#000">1.5</text>
<text x="31.3" y="43.30" text-anchor="end" font-size="11.5" font-family="Liberation Serif, serif" font-weight="bold" stroke="#000" stroke-width="0.3" fill="#000">2</text>
<text x="31.3" y="19.90" text-anchor="end" font-size="11.5" font-family="Liberation Serif, serif" font-weight="bold" stroke="#000" stroke-width="0.3" fill="#000">2.5</text>
<text x="210.8" y="141.50" font-size="11.5" font-family="Liberation Serif, serif" font-weight="bold" stroke="#000" stroke-width="0.3" fill="#000">0.8</text>
<text x="210.8" y="121.27" font-size="11.5" font-family="Liberation Serif, serif" font-weight="bold" stroke="#000" stroke-width="0.3" fill="#000">1</text>
<text x="210.8" y="101.04" font-size="11.5" font-family="Liberation Serif, serif" font-weight="bold" stroke="#000" stroke-width="0.3" fill="#000">1.2</text>
<text x="210.8" y="80.81" font-size="11.5" font-family="Liberation Serif, serif" font-weight="bold" stroke="#000" stroke-width="0.3" fill="#000">1.4</text>
<text x="210.8" y="60.58" font-size="11.5" font-family="Liberation Serif, serif" font-weight="bold" stroke="#000" stroke-width="0.3" fill="#000">1.6</text>
<text x="210.8" y="40.35" font-size="11.5" font-family="Liberation Serif, serif" font-weight="bold" stroke="#000" stroke-width="0.3" fill="#000">1.8</text>
<text x="210.8" y="20.12" font-size="11.5" font-family="Liberation Serif, serif" font-weight="bold" stroke="#000" stroke-width="0.3" fill="#000">2</text>
<text transform="translate(11.9,72.6) rotate(-90)" text-anchor="middle" font-size="11.8" font-family="Liberation Serif, serif" font-weight="bold" stroke="#000" stroke-width="0.3" fill="#000">ratio (GFP-F/F<tspan font-size="8" dy="2.5">0</tspan><tspan dy="-2.5">)</tspan></text>
<text transform="translate(231.8,70.5) rotate(90)" text-anchor="middle" font-size="12" font-family="Liberation Serif, serif" font-weight="bold" stroke="#000" stroke-width="0.3" fill="#000">ratio (TRITC-F/F<tspan font-size="8" dy="2.5">0</tspan><tspan dy="-2.5">)</tspan></text>
<path d="M64.9 127.4L69.4 143.0H60.4Z" fill="#000"/>
<rect x="113.4" y="140.8" width="51.6" height="2.6" fill="#000"/>
<text x="171.8" y="148.7" font-size="11.5" font-family="Liberation Serif, serif" font-weight="bold" stroke="#000" stroke-width="0.3" fill="#000">10 sec.</text>
<text x="0.9" y="12.7" font-size="16.5" font-family="Liberation Sans, sans-serif" font-weight="bold" fill="#000">A</text>
<rect x="45.10" y="298.29" width="7.2" height="38.21" fill="#000"/>
<text transform="translate(55.70,349.20) rotate(-55)" text-anchor="end" font-size="11.8" font-family="Liberation Serif, serif" font-weight="bold" stroke="#000" stroke-width="0.3" fill="#000">&lt;2</text>
<rect x="59.47" y="193.22" width="7.2" height="143.28" fill="#000"/>
<text transform="translate(70.17,349.20) rotate(-55)" text-anchor="end" font-size="11.8" font-family="Liberation Serif, serif" font-weight="bold" stroke="#000" stroke-width="0.3" fill="#000">&lt;4</text>
<rect x="73.84" y="183.67" width="7.2" height="152.83" fill="#000"/>
<text transform="translate(81.79,349.20) rotate(-55)" text-anchor="end" font-size="11.8" font-family="Liberation Serif, serif" font-weight="bold" stroke="#000" stroke-width="0.3" fill="#000">&lt;6</text>
<rect x="88.21" y="221.88" width="7.2" height="114.62" fill="#000"/>
<text transform="translate(96.11,349.20) rotate(-55)" text-anchor="end" font-size="11.8" font-family="Liberation Serif, serif" font-weight="bold" stroke="#000" stroke-width="0.3" fill="#000">&lt;8</text>
<rect x="102.58" y="307.84" width="7.2" height="28.66" fill="#000"/>
<text transform="translate(110.98,345.30) rotate(-55)" text-anchor="end" font-size="11.8" font-family="Liberation Serif, serif" font-weight="bold" stroke="#000" stroke-width="0.3" fill="#000">&lt;10</text>
<rect x="116.95" y="307.84" width="7.2" height="28.66" fill="#000"/>
<text transform="translate(125.35,345.30) rotate(-55)" text-anchor="end" font-size="11.8" font-family="Liberation Serif, serif" font-weight="bold" stroke="#000" stroke-width="0.3" fill="#000">&lt;12</text>
<rect x="131.32" y="298.29" width="7.2" height="38.21" fill="#000"/>
<text transform="translate(139.82,345.10) rotate(-55)" text-anchor="end" font-size="11.8" font-family="Liberation Serif, serif" font-weight="bold" stroke="#000" stroke-width="0.3" fill="#000">&lt;14</text>
<rect x="145.69" y="307.84" width="7.2" height="28.66" fill="#000"/>
<text transform="translate(152.49,345.60) rotate(-55)" text-anchor="end" font-size="11.8" font-family="Liberation Serif, serif" font-weight="bold" stroke="#000" stroke-width="0.3" fill="#000">&lt;16</text>
<rect x="160.06" y="298.29" width="7.2" height="38.21" fill="#000"/>
<text transform="translate(166.76,346.10) rotate(-55)" text-anchor="end" font-size="11.8" font-family="Liberation Serif, serif" font-weight="bold" stroke="#000" stroke-width="0.3" fill="#000">&lt;18</text>
<rect x="174.43" y="326.95" width="7.2" height="9.55" fill="#000"/>
<text transform="translate(181.23,346.60) rotate(-55)" text-anchor="end" font-size="11.8" font-family="Liberation Serif, serif" font-weight="bold" stroke="#000" stroke-width="0.3" fill="#000">&lt;20</text>
<rect x="203.17" y="298.29" width="7.2" height="38.21" fill="#000"/>
<text transform="translate(209.92,345.80) rotate(-55)" text-anchor="end" font-size="11.8" font-family="Liberation Serif, serif" font-weight="bold" stroke="#000" stroke-width="0.3" fill="#000">&lt;30</text>
<rect x="217.54" y="307.84" width="7.2" height="28.66" fill="#000"/>
<text transform="translate(225.34,345.80) rotate(-55)" text-anchor="end" font-size="11.8" font-family="Liberation Serif, serif" font-weight="bold" stroke="#000" stroke-width="0.3" fill="#000">&lt;40</text>
<rect x="231.91" y="317.40" width="7.2" height="19.10" fill="#000"/>
<text transform="translate(239.21,346.80) rotate(-55)" text-anchor="end" font-size="11.8" font-family="Liberation Serif, serif" font-weight="bold" stroke="#000" stroke-width="0.3" fill="#000">&lt;50</text>
<rect x="260.65" y="307.84" width="7.2" height="28.66" fill="#000"/>
<text transform="translate(266.65,344.70) rotate(-56)" text-anchor="end" font-size="11.8" font-family="Liberation Serif, serif" font-weight="bold" stroke="#000" stroke-width="0.3" fill="#000">50&lt;</text>
<path d="M41.75 153.3V336.5" stroke="#000" stroke-width="1.5" fill="none"/>
<path d="M38.0 336.85H271.4" stroke="#000" stroke-width="1.9" fill="none"/>
<path d="M38.0 263.30H41.6" stroke="#000" stroke-width="1.2"/>
<text x="28.6" y="268.20" text-anchor="end" font-size="11.3" font-family="Liberation Serif, serif" font-weight="bold" stroke="#000" stroke-width="0.3" fill="#000">10</text>
<path d="M38.0 190.10H41.6" stroke="#000" stroke-width="1.2"/>
<text x="28.6" y="195.00" text-anchor="end" font-size="11.3" font-family="Liberation Serif, serif" font-weight="bold" stroke="#000" stroke-width="0.3" fill="#000">20</text>
<text x="28.5" y="341.70" text-anchor="end" font-size="11.3" font-family="Liberation Serif, serif" font-weight="bold" stroke="#000" stroke-width="0.3" fill="#000">0</text>
<rect x="191.5" y="334.5" width="2.2" height="4" fill="#fff"/>
<path d="M188.9 340.5L191.6 335.1M193.1 340.5L195.6 335.1" stroke="#000" stroke-width="1.2" fill="none"/>
<rect x="247.7" y="334.5" width="2.2" height="4" fill="#fff"/>
<path d="M245.1 340.5L247.79999999999998 335.1M249.29999999999998 340.5L251.79999999999998 335.1" stroke="#000" stroke-width="1.2" fill="none"/>
<text transform="translate(12.6,251) rotate(-90)" text-anchor="middle" font-size="12" font-family="Liberation Serif, serif" font-weight="bold" stroke="#000" stroke-width="0.3" fill="#000">% of total events</text>
<text x="133.2" y="373.3" font-size="12" font-family="Liberation Serif, serif" font-weight="bold" stroke="#000" stroke-width="0.3" fill="#000">T<tspan font-size="8.5" dy="2.4">F1/2</tspan><tspan dy="-2.4"> (sec)</tspan></text>
<text x="1.0" y="165.8" font-size="16.5" font-family="Liberation Sans, sans-serif" font-weight="bold" fill="#000">C</text>
</svg></body></html>
